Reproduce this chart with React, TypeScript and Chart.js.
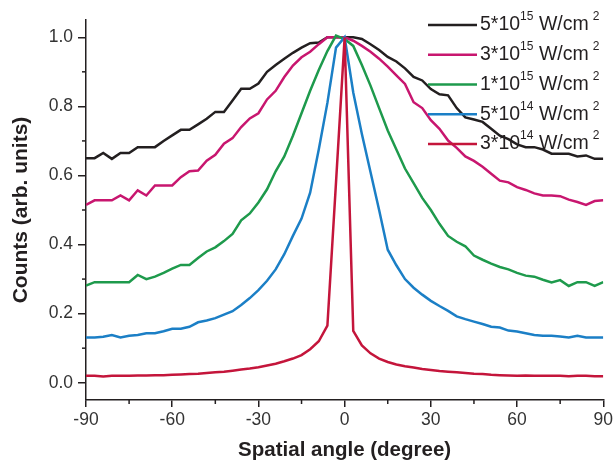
import React, { useEffect, useRef } from 'react';
import { Chart, registerables } from 'chart.js';

Chart.register(...registerables);

// ---- data ----
const angles = [
  -90, -87, -84, -81, -78, -75, -72, -69, -66, -63, -60, -57, -54, -51, -48, -45, -42, -39, -36, -33, -30,
  -27, -24, -21, -18, -15, -12, -9, -6, -3, 0, 3, 6, 9, 12, 15, 18, 21, 24, 27, 30,
  33, 36, 39, 42, 45, 48, 51, 54, 57, 60, 63, 66, 69, 72, 75, 78, 81, 84, 87, 90,
];

const seriesLabels = ['5*10¹⁵ W/cm²', '3*10¹⁵ W/cm²', '1*10¹⁵ W/cm²', '5*10¹⁴ W/cm²', '3*10¹⁴ W/cm²'];
const legendBase = ['5*10', '3*10', '1*10', '5*10', '3*10'];
const legendExp = ['15', '15', '15', '14', '14'];
const legendUnit = ' W/cm';
const legendUnitExp = '2';
const seriesColors = ['#231f20', '#c8166f', '#1e9a4c', '#1b7fc6', '#c4153b'];

const counts5e15 = [
  0.65, 0.65, 0.665, 0.648, 0.665, 0.665, 0.682, 0.682, 0.682, 0.70, 0.716, 0.732, 0.732, 0.748, 0.764, 0.784, 0.784, 0.817, 0.851, 0.851, 0.866,
  0.90, 0.92, 0.938, 0.955, 0.97, 0.983, 0.985, 1.0, 1.0, 1.0, 1.0, 0.995, 0.98, 0.963, 0.943, 0.93, 0.91, 0.885, 0.875, 0.85,
  0.835, 0.832, 0.795, 0.768, 0.762, 0.755, 0.735, 0.715, 0.705, 0.69, 0.682, 0.682, 0.675, 0.663, 0.663, 0.663, 0.655, 0.658, 0.648, 0.648,
];
const counts3e15 = [
  0.515, 0.528, 0.528, 0.528, 0.542, 0.528, 0.557, 0.542, 0.571, 0.571, 0.571, 0.595, 0.612, 0.614, 0.643, 0.66, 0.692, 0.708, 0.74, 0.765, 0.78,
  0.82, 0.845, 0.885, 0.918, 0.942, 0.958, 0.98, 1.0, 1.0, 1.0, 0.99, 0.975, 0.958, 0.938, 0.915, 0.89, 0.865, 0.812, 0.795, 0.76,
  0.735, 0.701, 0.68, 0.655, 0.642, 0.625, 0.605, 0.585, 0.58, 0.566, 0.558, 0.548, 0.542, 0.542, 0.54, 0.53, 0.523, 0.515, 0.526, 0.528,
];
const counts1e15 = [
  0.281, 0.291, 0.291, 0.291, 0.291, 0.291, 0.312, 0.3, 0.307, 0.318, 0.33, 0.341, 0.341, 0.361, 0.38, 0.392, 0.41, 0.431, 0.47, 0.49, 0.522,
  0.56, 0.612, 0.655, 0.715, 0.78, 0.845, 0.905, 0.96, 1.005, 0.995, 0.975, 0.92, 0.86, 0.795, 0.73, 0.675, 0.62, 0.578, 0.535, 0.5,
  0.46, 0.425, 0.408, 0.395, 0.368, 0.356, 0.345, 0.335, 0.328, 0.318, 0.31, 0.307, 0.298, 0.29, 0.297, 0.28, 0.291, 0.291, 0.28, 0.291,
];
const counts5e14 = [
  0.131, 0.131, 0.133, 0.138, 0.131, 0.136, 0.138, 0.143, 0.143, 0.149, 0.156, 0.156, 0.162, 0.175, 0.18, 0.187, 0.197, 0.207, 0.225, 0.245, 0.268,
  0.295, 0.328, 0.372, 0.425, 0.475, 0.55, 0.675, 0.81, 0.97, 1.0, 0.84, 0.72, 0.61, 0.5, 0.385, 0.34, 0.3, 0.275, 0.255, 0.237,
  0.222, 0.208, 0.192, 0.184, 0.177, 0.17, 0.162, 0.16, 0.151, 0.148, 0.143, 0.138, 0.136, 0.136, 0.134, 0.131, 0.136, 0.131, 0.131, 0.131,
];
const counts3e14 = [
  0.02, 0.02, 0.018, 0.02, 0.02, 0.02, 0.021, 0.021, 0.022, 0.022, 0.023, 0.024, 0.025, 0.026, 0.028, 0.03, 0.032, 0.035, 0.038, 0.041, 0.045,
  0.05, 0.055, 0.062, 0.07, 0.08, 0.097, 0.12, 0.165, 0.58, 1.0, 0.15, 0.108, 0.085, 0.07, 0.06, 0.053, 0.048, 0.044, 0.04, 0.037,
  0.034, 0.032, 0.03, 0.028, 0.026, 0.025, 0.023, 0.022, 0.021, 0.02, 0.021, 0.02, 0.02, 0.02, 0.02, 0.019, 0.02, 0.02, 0.019, 0.019,
];
const allSeries = [counts5e15, counts3e15, counts1e15, counts5e14, counts3e14];

const xMajorTicks = [-90, -60, -30, 0, 30, 60, 90];
const xMinorTicks = [-75, -45, -15, 15, 45, 75];
const yMajorTicks = [0, 0.2, 0.4, 0.6, 0.8, 1.0];
const yMinorTicks = [0.1, 0.3, 0.5, 0.7, 0.9];

const FONT = '"Liberation Sans", Arial, Helvetica, sans-serif';
const AXIS = '#231f20';
const TICKTEXT = '#333333';

const minorTickPlugin = {
  id: 'minorTicks',
  afterDraw(chart: any) {
    const { ctx, chartArea, scales } = chart;
    ctx.save();
    ctx.strokeStyle = AXIS;
    ctx.lineWidth = 1.5;
    xMinorTicks.forEach((v) => {
      const px = scales.x.getPixelForValue(v);
      ctx.beginPath();
      ctx.moveTo(px, chartArea.bottom);
      ctx.lineTo(px, chartArea.bottom + 4);
      ctx.stroke();
    });
    yMinorTicks.forEach((v) => {
      const py = scales.y.getPixelForValue(v);
      ctx.beginPath();
      ctx.moveTo(chartArea.left, py);
      ctx.lineTo(chartArea.left - 4, py);
      ctx.stroke();
    });
    ctx.restore();
  },
};

const legendPlugin = {
  id: 'supLegend',
  afterDraw(chart: any) {
    const { ctx } = chart;
    ctx.save();
    const x0 = 428;
    const lineLen = 49;
    const y0 = 25;
    const dy = 29.75;
    chart.data.datasets.forEach((ds: any, i: number) => {
      const y = y0 + i * dy;
      ctx.strokeStyle = ds.borderColor;
      ctx.lineWidth = 2.5;
      ctx.beginPath();
      ctx.moveTo(x0, y);
      ctx.lineTo(x0 + lineLen, y);
      ctx.stroke();
      ctx.fillStyle = AXIS;
      ctx.textBaseline = 'middle';
      ctx.textAlign = 'left';
      let x = x0 + lineLen + 3;
      ctx.font = `19.5px ${FONT}`;
      ctx.fillText(legendBase[i], x, y);
      x += ctx.measureText(legendBase[i]).width;
      ctx.font = `12px ${FONT}`;
      ctx.fillText(legendExp[i], x, y - 8);
      x += ctx.measureText(legendExp[i]).width;
      ctx.font = `19.5px ${FONT}`;
      ctx.fillText(legendUnit, x, y);
      x += ctx.measureText(legendUnit).width + 4;
      ctx.font = `12px ${FONT}`;
      ctx.fillText(legendUnitExp, x, y - 8);
    });
    ctx.restore();
  },
};

export default function App() {
  const canvasRef = useRef<HTMLCanvasElement | null>(null);

  useEffect(() => {
    if (!canvasRef.current) return;
    const chart = new Chart(canvasRef.current, {
      type: 'line',
      data: {
        datasets: allSeries.map((vals, i) => ({
          label: seriesLabels[i],
          data: angles.map((a, j) => ({ x: a, y: vals[j] })),
          borderColor: seriesColors[i],
          backgroundColor: seriesColors[i],
          borderWidth: 2.5,
          pointRadius: 0,
          tension: 0,
          fill: false,
          order: 5 - i,
        })),
      },
      options: {
        responsive: false,
        animation: false,
        devicePixelRatio: 1,
        layout: { padding: { left: 0, right: 10, top: 20, bottom: 0 } },
        plugins: { legend: { display: false }, tooltip: { enabled: false } },
        scales: {
          x: {
            type: 'linear',
            min: -90,
            max: 90,
            afterBuildTicks: (s: any) => {
              s.ticks = xMajorTicks.map((v) => ({ value: v }));
            },
            afterFit: (s: any) => {
              s.height = 66;
            },
            grid: { display: true, drawOnChartArea: false, drawTicks: true, tickLength: 7, color: AXIS, lineWidth: 1.5 },
            border: { display: true, color: AXIS, width: 1.5 },
            ticks: {
              font: { family: FONT, size: 17.5 },
              color: TICKTEXT,
              padding: 3,
              maxRotation: 0,
              autoSkip: false,
              callback: (v: any) => String(v),
            },
            title: {
              display: true,
              text: 'Spatial angle (degree)',
              font: { family: FONT, size: 20.5, weight: 'bold' },
              color: AXIS,
              padding: { top: 0, bottom: 3 },
            },
          },
          y: {
            type: 'linear',
            min: -0.05,
            max: 1.05,
            afterBuildTicks: (s: any) => {
              s.ticks = yMajorTicks.map((v) => ({ value: v }));
            },
            afterFit: (s: any) => {
              s.width = 86;
            },
            grid: { display: true, drawOnChartArea: false, drawTicks: true, tickLength: 8, color: AXIS, lineWidth: 1.5 },
            border: { display: true, color: AXIS, width: 1.5 },
            ticks: {
              font: { family: FONT, size: 17.5 },
              color: TICKTEXT,
              padding: 5,
              autoSkip: false,
              callback: (v: any) => Number(v).toFixed(1),
            },
            title: {
              display: true,
              text: 'Counts (arb. units)',
              font: { family: FONT, size: 21, weight: 'bold' },
              color: AXIS,
              padding: { top: 9, bottom: 0 },
            },
          },
        },
      },
      plugins: [minorTickPlugin, legendPlugin],
    } as any);
    return () => chart.destroy();
  }, []);

  return (
    <div style={{ position: 'fixed', left: 0, top: 0, width: 616, height: 466, background: '#fff' }}>
      <canvas ref={canvasRef} width={616} height={466} style={{ width: 616, height: 466, display: 'block' }} />
    </div>
  );
}
